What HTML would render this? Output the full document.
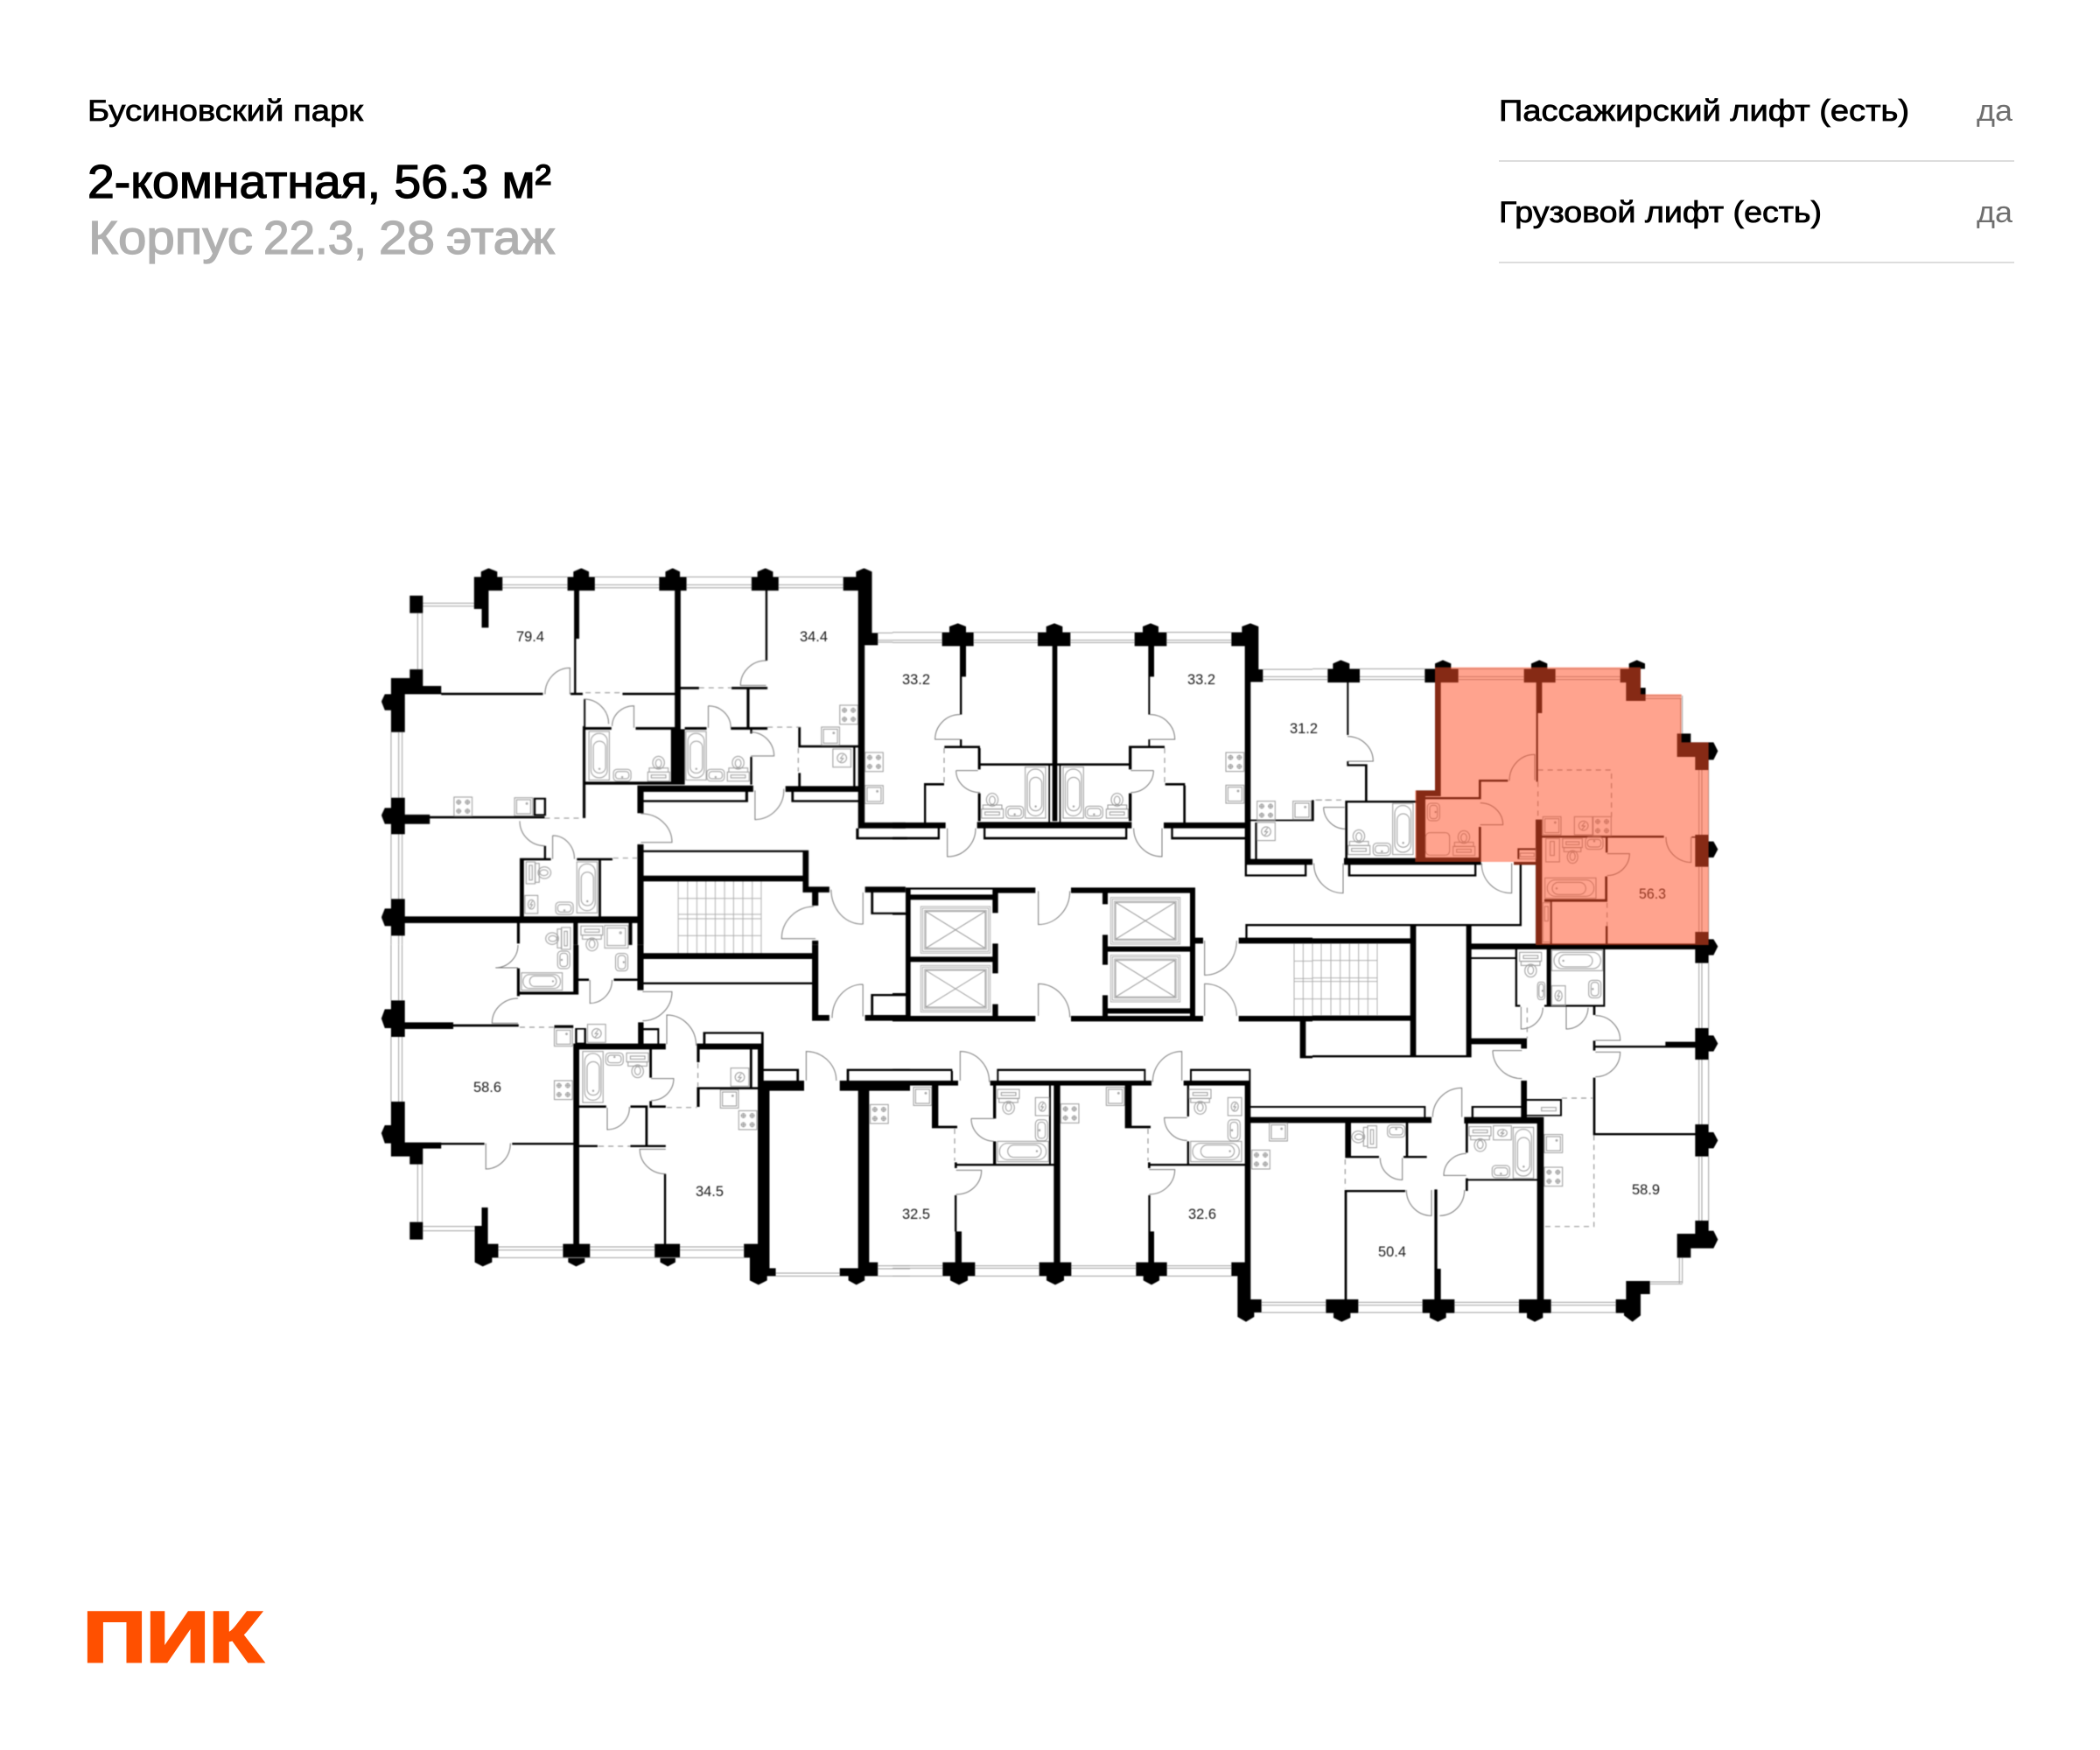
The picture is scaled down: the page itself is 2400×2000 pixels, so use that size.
<!DOCTYPE html>
<html lang="ru"><head><meta charset="utf-8"><title>2-комнатная, 56.3 м²</title>
<style>
html,body{margin:0;padding:0;background:#fff}
svg{display:block;font-family:"Liberation Sans","Noto Sans CJK SC",sans-serif}
svg *{vector-effect:non-scaling-stroke}
.plan{filter:blur(.45px)}
.k{fill:#000;stroke:none}
.w{fill:none;stroke:#a0a0a0;stroke-width:1}
.d{fill:none;stroke:#777;stroke-width:1}
.s{fill:none;stroke:#999;stroke-width:1.2;stroke-dasharray:6 5}
.f{fill:none;stroke:#999;stroke-width:1}
.g{fill:none;stroke:#b0b0b0;stroke-width:1}
.n{font-size:17px;fill:#1a1a1a}
</style></head><body>
<svg xmlns="http://www.w3.org/2000/svg" width="2400" height="2000" viewBox="0 0 2400 2000">
<defs>
<g id="tub" class="f"><rect x="0" y="0" width="70" height="175"/><rect x="7" y="7" width="56" height="160" rx="27"/><rect x="15" y="35" width="42" height="115" rx="21"/><circle cx="36" cy="135" r="2"/></g>
<g id="toi" class="f"><ellipse cx="37" cy="22" rx="20" ry="22"/><ellipse cx="37" cy="24" rx="10" ry="14"/><rect x="5" y="40" width="65" height="14"/><rect x="0" y="54" width="75" height="31"/><rect x="12" y="64" width="50" height="10"/></g>
<g id="snk" class="f"><rect x="1" y="6" width="60" height="42" rx="12"/><rect x="8" y="14" width="46" height="26" rx="10"/><circle cx="31" cy="34" r="2"/></g>
<g id="stv" class="f"><rect x="0" y="0" width="62" height="65"/><circle cx="16" cy="17" r="7"/><circle cx="46" cy="17" r="7"/><circle cx="16" cy="48" r="7"/><circle cx="46" cy="48" r="7"/><path d="M7 17H25M16 8V26M37 17H55M46 8V26M7 48H25M16 39V57M37 48H55M46 39V57"/></g>
<g id="bas" class="f"><rect x="0" y="0" width="62" height="62"/><rect x="7" y="7" width="48" height="48"/><circle cx="42" cy="20" r="2.5"/></g>
<g id="vnt" class="f"><rect x="0" y="0" width="62" height="62"/><circle cx="31" cy="31" r="16"/><path d="M36 19L26 32H36L26 44"/></g>
<g id="lft" class="g"><rect x="0" y="0" width="238" height="160"/><rect x="6" y="6" width="226" height="148"/><rect x="13" y="13" width="212" height="134"/><path class="f" d="M17 17H221V143H17ZM17 17L221 143M221 17L17 143"/></g>
</defs>

<g class="plan">
<!-- ZONE 1 top-left -->
<g transform="translate(420,630) scale(.3954,.33333)">
<path class="k" d="M328 70L350 58L375 70V88H390V135H350V262H330V198H308V88H328zM595 70L618 58L640 70V88H657V135H612V300H603V490H597V135H578V88H595zM861 70L882 58L903 70V88H922V135H905V800H888V135H843V88H861zM1127 70L1150 58L1172 70V88H1188V135H1156V375H1150V135H1110V88H1127zM1412 70L1435 58L1458 70V280H1475V322H1437V930H1555V950H1418V135H1375V88H1412z
M68 435H122V405H160V462H213V490H108V620H68V545H50L40 515L50 490H68zM122 152H160V212H122zM68 845H108V903H180V908H512V916H180V935H108V970H68V935H50L40 905L50 880H68zM68 1192H108V1252H780V1275H108V1318H68V1285H50L40 1255L50 1225H68z
M213 485H507V493H213zM587 485H622V493H587zM737 485H888V493H737zM625 507H630V800H622V600H625zM622 790H905V800H622zM625 603H705V612H625zM775 603H888V612H775zM877 610H917V800H877zM917 603H980V612H917zM1050 603H1100V612H1050zM905 465H958V473H905zM1052 465H1156V473H1052zM1096 473H1104V605H1096zM1100 603H1156V612H1100zM1106 610H1112V625H1106zM1106 705H1112V800H1106zM1245 603H1252V670H1245zM1245 760H1252V805H1245zM1245 665H1418V673H1245zM1404 673H1410V805H1404zM1208 805H1418V825H1208zM1225 825H1232V860H1225zM1225 853H1418V860H1225zM783 803H1115V825H783zM780 803H798V898H780zM798 853H1100V860H798zM1092 825H1100V860H1092zM622 800H630V915H622zM510 1010H516V1055H510zM440 1052H530V1060H440zM440 1052H452V1252H440zM605 1052H708V1060H605zM668 1060H675V1252H668zM780 1005H798V1350H780z
M798 1025H1275V1032H798zM1258 1025H1275V1170H1258zM798 1112H1258V1132H798zM1258 1150H1335V1170H1258zM1285 1170H1303V1215H1285zM1285 1335H1303V1350H1285zM1438 1150H1555V1170H1438zM1455 1170H1462V1245H1455zM1455 1238H1555V1245H1455zM798 1378H1285V1398H798zM1412 950H1420V988H1412zM1412 980H1560V988H1412zM432 1275H440V1345H432zM595 1275H608V1350H595zM755 1275H765V1350H755z"/>
<path class="w" d="M390 88H578M390 115H578M390 125H578M657 88H843M657 115H843M657 125H843M922 88H1110M922 115H1110M922 125H1110M1188 88H1375M1188 115H1375M1188 125H1375M1475 280H1518M1475 305H1518M1475 312H1518M160 178H308M160 188H308M145 212V405M158 212V405M68 620V845M90 620V845M100 620V845M68 970V1192M90 970V1192M100 970V1192M68 1318V1350M90 1318V1350M100 1318V1350"/>
<path class="d" d="M513 490A72 90 0 0 1 585 400V490M625 507A72 85 0 0 1 697 592M707 600A63 70 0 0 1 770 530V605M985 530A65 75 0 0 1 1050 605M985 530V605M1108 620A68 82 0 0 1 1175 702H1108M1120 820V920A85 100 0 0 0 1203 815M1152 375A74 85 0 0 0 1078 460H1152M440 925A72 85 0 0 0 512 1010M535 975A62 80 0 0 1 598 1055M535 975V1055M790 900A88 98 0 0 1 880 998H790M1290 1218A95 110 0 0 0 1197 1328H1295M1340 1160A88 118 0 0 0 1432 1278V1170"/>
<path class="s" d="M630 485H737M958 468H1050M1156 603H1250M1245 675V755M512 915H622M710 1052H782"/>
<path class="g" d="M898 1132V1378M925 1132V1378M952 1132V1378M978 1132V1378M1005 1132V1378M1032 1132V1378M1058 1132V1378M1085 1132V1378M1112 1132V1378M1138 1132V1378M898 1190H1138M898 1245H1138M898 1260H1138M898 1318H1138"/>
<use href="#tub" transform="translate(640,618) scale(.843,.95)"/><use href="#snk" transform="translate(710,742) scale(.843,.95)"/><use href="#toi" transform="translate(810,703) scale(.843,1)"/>
<use href="#tub" transform="translate(920,618) scale(.843,.95)"/><use href="#snk" transform="translate(980,742) scale(.843,.95)"/><use href="#toi" transform="translate(1040,703) scale(.843,1)"/>
<use href="#stv" transform="translate(1365,528) scale(.843,1)"/><use href="#bas" transform="translate(1312,603) scale(.843,1)"/><use href="#vnt" transform="translate(1345,678) scale(.843,1)"/>
<use href="#stv" transform="translate(1438,690) scale(.843,1)"/><use href="#bas" transform="translate(1438,803) scale(.843,1)"/>
<use href="#stv" transform="translate(250,843) scale(.843,1)"/><use href="#bas" transform="translate(425,845) scale(.843,1)"/>
<path class="k" d="M480 845H516V907H480zM486 851V901H510V851z" fill-rule="evenodd"/>
<use href="#toi" transform="translate(530,1065) scale(.843,1) rotate(90)"/><use href="#vnt" transform="translate(455,1180) scale(.6,1)"/><use href="#snk" transform="translate(543,1197) scale(.843,1)"/><use href="#tub" transform="translate(605,1065)scale(.843,1)"/>
<use href="#toi" transform="translate(515,1365) scale(.843,1) rotate(-90)"/><use href="#toi" transform="translate(680,1370) scale(.843,1) rotate(180)"/><use href="#bas" transform="translate(685,1283) scale(1.1,1.25)"/><use href="#snk" transform="translate(712,1440) scale(.843,1) rotate(-90)"/><use href="#snk" transform="translate(590,1370) scale(.843,1) rotate(90)"/>
</g>

<!-- ZONE 4 bottom-left -->
<g transform="translate(420,1080) scale(.3954,.33333)">
<path class="k" d="M68 190H108V265H248V272H437V280H248V288H108V315H68V285H50L40 252L50 220H68zM68 537H108V677H213V698H160V752H122V725H68V680H50L40 645L50 618H68zM122 950H160V1010H122zM213 678H338V685H213zM418 678H595V685H418zM330 900H348V1025H378V1072H360V1088L333 1102L310 1088V963H330z
M595 338H862V358H612V1025H643V1072H628V1088L603 1102L580 1088V1072H565V1025H595zM830 1025H857V785H863V1025H903V1072H890V1088L868 1102L846 1088V1072H830zM1128 490H1162V1108H1180V1135H1155V1150L1130 1165L1105 1150V1072H1088V1025H1128zM1365 1108H1418V480H1450V1088H1475V1135H1437V1150L1413 1165L1390 1150V1135H1365z
M1128 465H1262V500H1128zM1365 465H1568V500H1365zM1145 425H1245V432H1145zM1240 425H1247V465H1240zM1385 425H1568V432H1385zM1385 425H1392V465H1385zM952 338H1145V358H952zM970 298H1145V305H970zM970 298H977V338H970zM1138 298H1145V358H1138zM952 358H960V402H952zM952 490H960V555H952zM952 487H1128V495H952zM1105 358H1112V487H1105zM1128 358H1145V495H1128zM815 358H822V455H815zM815 535H822V555H815zM612 550H690V558H612zM760 550H810V558H760zM815 550H862V558H815zM803 558H810V690H803zM612 686H665V693H612zM760 686H862V693H760z
M432 80H440V175H432zM440 160H600V170H440zM595 0H610V170H595zM608 115H640V123H608zM712 115H782V123H712zM780 0H798V155H780zM782 265H798V340H782zM798 285H843V292H798zM838 285H843V340H838zM798 28H1285V48H798zM798 128H1285V135H798zM1285 0H1303V260H1285zM1285 240H1335V260H1285zM1438 240H1568V260H1438zM1455 168H1568V175H1455zM1455 168H1462V240H1455zM540 275H595V285H540z"/>
<path class="w" d="M68 0V190M90 0V190M100 0V190M68 315V537M90 315V537M100 315V537M145 752V950M158 752V950M160 965H310M160 980H310M378 1035H565M378 1046H565M378 1072H1090M643 1035H830M643 1046H830M903 1035H1088M903 1046H1088M1180 1125H1365M1180 1135H1365M1475 1100H1568M1475 1110H1568M1475 1135H1568"/>
<path class="d" d="M435 0A65 78 0 0 1 370 78H435M435 183A75 85 0 0 0 360 268H435M643 120V200A65 80 0 0 0 707 120M795 160H880A85 100 0 0 1 795 260M342 680V768A72 88 0 0 0 413 680M1268 465V365A88 100 0 0 1 1355 465M865 340V240A85 105 0 0 1 950 345M820 458H885A65 75 0 0 1 820 533M693 558V633A65 75 0 0 0 757 555M862 785A75 85 0 0 1 787 700H862M1432 135V245M1432 135A88 115 0 0 0 1343 250"/>
<path class="s" d="M440 282H540M955 405V485M865 557H952M668 690H760"/>
<use href="#tub" transform="translate(445,155) scale(.843,1) rotate(-90) scale(.851,.8)"/>
<use href="#bas" transform="translate(540,285) scale(.843,1)"/><path class="k" d="M600 285H632V340H600zM606 290V335H626V290z" fill-rule="evenodd"/><use href="#vnt" transform="translate(636,272) scale(.843,1)"/>
<use href="#tub" transform="translate(622,365) scale(.843,1)"/><use href="#snk" transform="translate(740,418) scale(.843,1) rotate(180)"/><use href="#toi" transform="translate(812,455) scale(.843,1) rotate(180)"/>
<use href="#stv" transform="translate(540,465) scale(.843,1)"/><use href="#stv" transform="translate(1073,568) scale(.843,1)"/><use href="#bas" transform="translate(1020,497) scale(.843,1)"/><use href="#vnt" transform="translate(1050,422) scale(.843,1)"/><use href="#stv" transform="translate(1453,547) scale(.843,1)"/>
</g>

<!-- ZONE 2 top-middle -->
<g transform="translate(1020,680) scale(.33333)">
<path class="k" d="M195 108L224 97L252 108V128H278V175H252V280H238V410H231V175H170V128H195zM527 108L555 97L583 108V128H610V175H565V775H548V175H498V128H527zM858 108L885 97L912 108V128H940V175H897V280H883V410H877V175H830V128H858zM1198 108L1227 97L1255 108V255H1270V298H1228V925H1208V175H1162V128H1198z
M231 495H238V520H231zM877 495H883V520H877zM178 517H300V525H178zM293 525H302V598H293zM300 577H810V585H300zM810 517H820V598H810zM810 517H933V525H810zM108 645H177V653H108zM108 653H115V785H108zM935 645H1003V653H935zM997 653H1005V785H997zM293 680H302V775H293zM810 680H820V775H810zM0 780H182V800H0zM290 778H820V800H290zM930 780H1210V800H930zM0 830H162V838H0zM155 800H162V838H155zM312 830H805V838H312zM312 800H319V838H312zM798 800H805V838H798zM955 830H1210V838H955zM955 800H962V838H955zM1208 905H1440V925H1208zM1243 780H1250V905H1243zM1228 770H1440V775H1228zM1437 703H1445V775H1437zM1208 958H1420V965H1208zM1208 925H1215V965H1208zM1413 925H1420V965H1413z
M345 1003H490V1022H345zM45 1003H345V1010H45zM45 1003H62V1462H45zM62 1027H345V1045H62zM343 1003H362V1090H343zM343 1195H362V1297H343zM62 1240H345V1258H62zM343 1403H362V1462H343zM0 1443H490V1462H0zM0 1090H45V1097H0zM0 1365H45V1372H0zM612 1003H1035V1022H612zM720 1022H738V1060H720zM720 1165H738V1268H720zM738 1205H1020V1223H738zM720 1372H738V1462H720zM738 1417H1020V1435H738zM1020 1003H1038V1462H1020zM612 1443H1065V1462H612zM1038 1175H1065V1195H1038zM1187 1175H1440V1195H1187zM1210 1128H1217V1175H1210zM1210 1128H1440V1135H1210zM1187 1443H1440V1462H1187zM535 585H540V778H535zM572 585H577V778H572z"/>
<path class="w" d="M0 128H170M0 155H170M0 163H170M278 128H498M278 155H498M278 163H498M610 128H830M610 155H830M610 163H830M940 128H1162M940 155H1162M940 163H1162M1270 255H1440M1270 280H1440M1270 290H1440"/>
<path class="d" d="M231 410A85 85 0 0 0 146 495H231M883 410A85 85 0 0 1 968 495H883M218 602A82 75 0 0 0 300 677M218 602H293M895 602A78 75 0 0 1 817 677M817 602H895M188 800V897A95 97 0 0 0 285 800M827 800A97 97 0 0 0 924 897V800M500 1015V1130A108 115 0 0 0 608 1015M500 1443V1333A108 115 0 0 1 608 1448M1070 1185V1303A108 118 0 0 0 1180 1185M1070 1443V1333A108 110 0 0 1 1180 1443"/>
<path class="s" d="M177 525V645M933 525V645M1450 703H1500"/>
<path class="g" d="M1377 1195V1443M1408 1195V1443M1440 1195V1443M1377 1255H1440M1377 1315H1440M1377 1325H1440M1377 1385H1440"/>
<use href="#tub" transform="translate(455,590)"/><use href="#snk" transform="translate(388,718)"/><use href="#toi" transform="translate(305,680)"/>
<use href="#tub" transform="translate(585,590)"/><use href="#snk" transform="translate(660,718)"/><use href="#toi" transform="translate(733,680)"/>
<use href="#stv" transform="translate(1143,540)"/><use href="#bas" transform="translate(1143,652)"/><use href="#stv" transform="translate(1250,707)"/><use href="#bas" transform="translate(1373,707)"/><use href="#vnt" transform="translate(1250,780)"/>
<use href="#lft" transform="translate(97,1068)"/><use href="#lft" transform="translate(97,1270)"/><use href="#lft" transform="translate(748,1037)"/><use href="#lft" transform="translate(748,1235)"/>
</g>

<!-- ZONE 5 bottom-middle -->
<g transform="translate(1020,1150) scale(.33333)">
<path class="k" d="M0 255H225V272H0zM0 215H205V222H0zM200 222H207V255H200zM335 255H888V272H335zM358 215H868V222H358zM358 222H364V255H358zM862 222H868V255H862zM998 255H1228V272H998zM1020 215H1228V222H1020zM1020 215H1026V255H1020zM1222 215H1228V255H1222zM135 272H157V415H135zM135 410H222V418H135zM213 535H221V555H213zM213 540H555V547H213zM345 272H355V385H345zM345 463H355V540H345zM537 272H543V540H537zM553 272H575V880H553zM213 648H220V772H213zM215 772H237V880H215zM797 272H820V415H797zM797 410H885V418H797zM876 535H884V555H876zM876 540H1208V547H876zM1010 272H1017V378H1010zM1010 463H1017V540H1010zM877 648H884V772H877zM877 772H897V880H877zM1228 342H1440V348H1228zM1228 380H1440V400H1228z
M172 878H283V925H258V940L228 955L198 940V925H172zM503 878H613V925H588V940L558 955L528 940V925H503zM835 878H941V925H915V940L888 955L860 940V925H835zM1162 878H1208V272H1228V1005H1265V1050H1240V1065L1212 1082L1183 1065V925H1162z"/>
<path class="w" d="M0 890H172M0 898H172M0 925H172M283 890H503M283 898H503M283 925H503M613 890H835M613 898H835M613 925H835M941 890H1162M941 898H1162M941 925H1162M1265 1015H1440M1265 1025H1440M1265 1050H1440"/>
<path class="d" d="M232 255V155A100 105 0 0 1 332 260M892 260A100 105 0 0 1 992 155V255M270 385H350M270 385A80 78 0 0 0 348 463M218 562H305A85 82 0 0 1 218 645M1010 382H932A78 78 0 0 0 1010 460M880 560H968A88 85 0 0 1 880 645"/>
<path class="s" d="M213 420V530M876 420V530"/>
<path class="k" d="M1397 50H1417V178H1397zM1397 170H1440V178H1397z"/>
<use href="#bas" transform="translate(72,278)"/><use href="#toi" transform="translate(435,370) rotate(180)"/><use href="#vnt" transform="translate(490,313) scale(.76,1)"/><use href="#snk" transform="translate(538,388) rotate(90) scale(1.2,1)"/><use href="#tub" transform="translate(360,533) rotate(-90)"/>
<use href="#stv" transform="translate(577,335)"/><use href="#bas" transform="translate(733,278)"/><use href="#toi" transform="translate(1092,370) rotate(180)"/><use href="#vnt" transform="translate(1150,313) scale(.76,1)"/><use href="#snk" transform="translate(1198,388) rotate(90) scale(1.2,1)"/><use href="#tub" transform="translate(1022,533) rotate(-90)"/>
<use href="#bas" transform="translate(1292,400)"/><use href="#stv" transform="translate(1232,493)"/>
</g>

<!-- ZONE 3 top-right -->
<g transform="translate(1500,730) scale(.33333)">
<path class="k" d="M70 85L97 73L127 85V103H162V150H124V330H118V150H52V103H70zM385 103H420V85L447 73L475 85V103H500V150H440V520H420V150H385zM355 520H440V540H387V750H570V765H355zM387 543H570V550H387zM750 85L778 73L805 85V103H833V150H787V255H773V490H767V150H725V103H750zM1085 85L1112 73L1140 85V103H1125V168H1142V213H1075V150H1055V103H1085zM1250 325H1297V355H1358H1375L1390 385L1375 415H1358V450H1312V405H1250zM1312 672H1358V695H1375L1390 722L1375 750H1358V782H1312zM1312 1005H1358V1030H1375L1390 1055L1375 1085H1358V1112H1312z
M540 1045H1358V1065H540zM527 985H545V1050H527zM335 985H355V1050H335zM0 978H717V985H0zM710 775H717V985H710zM690 765H765V775H690zM108 752H578V775H108zM122 808H562V815H122zM122 775H130V815H122zM555 775H562V815H555zM112 555H120V752H112zM115 555H355V562H115zM180 430H188V555H180zM120 430H188V437H120zM118 420H124V437H118zM0 1027H335V1045H0zM570 485H578V550H570zM570 483H670V490H570zM570 645H578V765H570zM765 620H787V1050H765zM787 675H1205V682H787zM1300 678H1312V682H1300zM1005 682H1012V733H1005zM1003 815H1011V895H1003zM795 893H1011V902H795zM815 902H821V1045H815zM1005 985H1012V1045H1005z"/>
<path class="w" d="M0 103H52M0 130H52M0 140H52M162 103H385M162 130H385M162 140H385M500 103H725M500 130H725M500 140H725M833 103H1055M833 130H1055M833 140H1055M1142 195H1265M1142 205H1265M1262 205V325M1268 195V325M1325 450V672M1335 450V672M1358 450V672M1325 782V1005M1335 782V1005M1358 782V1005"/>
<path class="d" d="M120 335A88 85 0 0 1 208 420H120M38 578A75 75 0 0 0 112 652M38 578H110M5 770A100 100 0 0 0 105 872V770M580 770A100 100 0 0 0 683 872V770M675 487A85 90 0 0 1 762 397V485M575 563A78 75 0 0 1 653 638H575M1212 680A90 85 0 0 0 1298 767V680M1010 737H1087A78 75 0 0 1 1010 812"/>
<path class="s" d="M15 553H110M773 450H1025V610M773 490V620M1010 905V985"/>
<path class="g" d="M0 1045V1290M30 1045V1290M63 1045V1290M95 1045V1290M127 1045V1290M158 1045V1290M190 1045V1290M222 1045V1290M0 1103H222M0 1163H222M0 1175H222M0 1235H222"/>
<use href="#tub" transform="translate(275,565)"/><use href="#snk" transform="translate(207,695)"/><use href="#toi" transform="translate(122,655)"/>
<use href="#bas" transform="translate(790,610)"/><use href="#vnt" transform="translate(898,610)"/><use href="#stv" transform="translate(962,610)"/>
<use href="#snk" transform="translate(997,728) rotate(180)"/><use href="#toi" transform="translate(925,770) rotate(180) scale(.9,1)"/>
<rect class="f" x="800" y="685" width="47" height="80"/><rect class="f" x="815" y="695" width="14" height="48"/>
<use href="#tub" transform="translate(972,820) rotate(90)"/>
<rect class="f" x="790" y="905" width="25" height="135"/><rect class="f" x="796" y="918" width="12" height="50"/>
<use href="#snk" transform="translate(388,625) rotate(-90)"/><rect class="f" x="388" y="665" width="82" height="77" rx="14"/><use href="#toi" transform="translate(482,658)"/>
<rect class="f" x="705" y="720" width="60" height="35"/><path class="k" d="M703 718H765V724H709V755H703z"/><rect class="f" x="712" y="735" width="48" height="12"/>
</g>

<!-- ZONE 6 bottom-right -->
<g transform="translate(1500,1080) scale(.33333)">
<path class="k" d="M335 0H355V385H335zM0 242H335V260H0zM0 378H527V385H0zM527 0H545V385H527zM545 42H695V48H545zM545 320H735V340H545zM715 340H735V355H715zM695 15H702V212H695zM695 205H712V212H695zM795 205H1003V212H795zM803 15H818V205H803zM997 15H1003V212H997zM962 212H970V240H962zM962 328H970V362H962zM970 345H1210V352H970zM1210 332H1312V352H1210zM962 455H970V650H962zM962 645H1312V652H962zM715 465H735V590H715zM1312 285H1358V310H1375L1390 338L1375 365H1358V393H1312zM1312 615H1358V642H1375L1390 670L1375 697H1358V725H1312zM1312 945H1358V980H1375L1390 1010L1375 1040H1297V1072H1250V990H1312zM1040 1215H1075V1152H1157V1197H1125V1270L1097 1292L1068 1270V1262H1040zM46 1215H157V1262H130V1278L100 1292L72 1278V1262H46zM377 1215H418V1110H440V1215H487V1262H458V1278L430 1292L402 1278V1262H377zM708 1215H770V590H793V1215H818V1262H790V1278L762 1292L735 1278V1262H708z
M110 840H118V1215H110zM118 840H318V847H118zM418 838H428V1110H418zM525 800H533V843H525zM525 802H775V808H525zM112 610H132V730H112zM112 723H228V730H112zM312 723H392V730H312zM320 610H328V730H320zM0 590H408V610H0zM0 552H388V558H0zM382 558H388V590H382zM520 590H792V612H520zM545 552H715V558H545zM545 558H552V590H545zM525 612H533V712H525zM735 528H855V534H735zM849 528H855V587H849zM735 582H855V587H735z"/>
<path class="w" d="M1325 62V285M1335 62V285M1358 62V285M1325 393V615M1335 393V615M1358 393V615M1325 725V945M1335 725V945M1358 725V945M1258 1072V1160M1268 1072V1160M1157 1155H1268M1157 1162H1268M0 1225H46M0 1235H46M0 1260H46M157 1225H377M157 1235H377M157 1260H377M487 1225H708M487 1235H708M487 1260H708M818 1225H1040M818 1235H1040M818 1260H1040"/>
<path class="d" d="M715 212V288A75 75 0 0 0 790 215M870 212V288A75 75 0 0 0 945 215M970 242A85 85 0 0 1 1055 327H970M970 367H1055A85 85 0 0 1 970 452M618 362H718M618 362A100 97 0 0 0 718 458M322 840A85 88 0 0 0 408 928V840M436 928A85 88 0 0 0 521 840M412 590A100 100 0 0 1 512 490V590M232 730A75 75 0 0 0 308 805V730M527 715A78 75 0 0 0 450 790H527"/>
<path class="s" d="M736 215V320M112 735V835M855 525H960M965 652V965H793"/>
<rect class="f" x="785" y="557" width="50" height="12"/>
<use href="#tub" transform="translate(995,18) rotate(90)"/><use href="#toi" transform="translate(785,110) rotate(180)"/><use href="#snk" transform="translate(768,188) rotate(-90) scale(1,.6)"/><use href="#vnt" transform="translate(820,140) scale(.76,1.1)"/><use href="#snk" transform="translate(995,120) rotate(90)"/>
<use href="#bas" transform="translate(795,650)"/><use href="#stv" transform="translate(795,762)"/><use href="#toi" transform="translate(612,708) rotate(180)"/><use href="#vnt" transform="translate(620,620) scale(1,.78)"/><use href="#tub" transform="translate(688,625)"/><use href="#snk" transform="translate(615,750)"/>
<use href="#toi" transform="translate(135,695) rotate(-90)"/><use href="#snk" transform="translate(318,665) rotate(180)"/>
</g>

<!-- room areas -->
<text class="n" x="590" y="733" textLength="32" lengthAdjust="spacingAndGlyphs">79.4</text>
<text class="n" x="914" y="733" textLength="32" lengthAdjust="spacingAndGlyphs">34.4</text>
<text class="n" x="1031" y="782" textLength="32" lengthAdjust="spacingAndGlyphs">33.2</text>
<text class="n" x="1357" y="782" textLength="32" lengthAdjust="spacingAndGlyphs">33.2</text>
<text class="n" x="1474" y="838" textLength="32" lengthAdjust="spacingAndGlyphs">31.2</text>
<text class="n" x="1873" y="1027" textLength="31" lengthAdjust="spacingAndGlyphs">56.3</text>
<text class="n" x="541" y="1248" textLength="32" lengthAdjust="spacingAndGlyphs">58.6</text>
<text class="n" x="795" y="1367" textLength="32" lengthAdjust="spacingAndGlyphs">34.5</text>
<text class="n" x="1031" y="1393" textLength="32" lengthAdjust="spacingAndGlyphs">32.5</text>
<text class="n" x="1358" y="1393" textLength="32" lengthAdjust="spacingAndGlyphs">32.6</text>
<text class="n" x="1575" y="1436" textLength="32" lengthAdjust="spacingAndGlyphs">50.4</text>
<text class="n" x="1865" y="1365" textLength="32" lengthAdjust="spacingAndGlyphs">58.9</text>

<!-- highlighted apartment -->
<g transform="translate(1500,730) scale(.33333)">
<path fill="#FF5028" fill-opacity=".525" d="M420 98H1125V190H1265V355H1358V1050H765V775H690V765H352V520H420z"/>
</g>
</g>

<!-- header -->
<text x="100" y="138" font-size="34" fill="#000" stroke="#000" stroke-width=".8" textLength="315" lengthAdjust="spacingAndGlyphs">Бусиновский парк</text>
<text x="100" y="226" font-size="54" fill="#000" stroke="#000" stroke-width="1.3" textLength="530" lengthAdjust="spacingAndGlyphs">2-комнатная, 56.3 м²</text>
<g font-size="54" fill="#B0B0B0" stroke="#B0B0B0" stroke-width="1.3">
<text x="101" y="290" textLength="188" lengthAdjust="spacingAndGlyphs">Корпус</text>
<text x="301" y="290" textLength="118" lengthAdjust="spacingAndGlyphs">22.3,</text>
<text x="433" y="290" textLength="64" lengthAdjust="spacingAndGlyphs">28</text>
<text x="510" y="290" textLength="124" lengthAdjust="spacingAndGlyphs">этаж</text>
</g>
<text x="1713" y="138" font-size="34" fill="#000" stroke="#000" stroke-width=".8" textLength="469" lengthAdjust="spacingAndGlyphs">Пассажирский лифт (есть)</text>
<text x="2259" y="138" font-size="34" fill="#6e6e6e" textLength="41" lengthAdjust="spacingAndGlyphs">да</text>
<rect x="1713" y="183" width="589" height="2" fill="#ddd"/>
<text x="1713" y="254" font-size="34" fill="#000" stroke="#000" stroke-width=".8" textLength="369" lengthAdjust="spacingAndGlyphs">Грузовой лифт (есть)</text>
<text x="2259" y="254" font-size="34" fill="#6e6e6e" textLength="41" lengthAdjust="spacingAndGlyphs">да</text>
<rect x="1713" y="299" width="589" height="2" fill="#ddd"/>

<!-- logo -->
<text x="95" y="1899" font-size="82" font-weight="700" fill="#FF5000" stroke="#FF5000" stroke-width="3" textLength="205" lengthAdjust="spacingAndGlyphs">ПИК</text>
</svg>
</body></html>
